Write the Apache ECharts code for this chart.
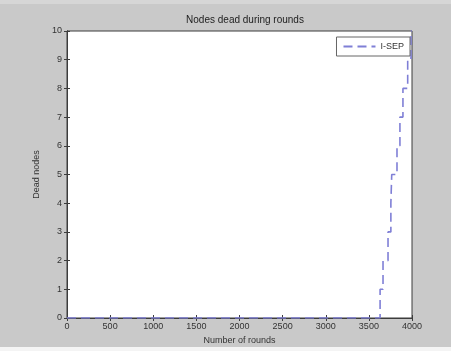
<!DOCTYPE html>
<html>
<head>
<meta charset="utf-8">
<script src="https://cdn.jsdelivr.net/npm/echarts@6/dist/echarts.min.js"></script>
<style>
  html, body { margin: 0; padding: 0; background: #c9c9c9; }
  #chart { width: 451px; height: 351px; }
</style>
</head>
<body>
<div id="chart"></div>
<script>
// Rounds at which the cumulative number of dead nodes changes
const rounds = [0, 3630, 3664, 3722, 3755, 3765, 3826, 3860, 3895, 3950, 3988, 4000];
const deadNodes = [0, 1, 2, 3, 4, 5, 6, 7, 8, 9, 10, 10];
const xTicks = [0, 500, 1000, 1500, 2000, 2500, 3000, 3500, 4000];
const yTicks = [0, 1, 2, 3, 4, 5, 6, 7, 8, 9, 10];
const seriesName = 'I-SEP';

const points = rounds.map((r, i) => [r, deadNodes[i]]);
const axisColor = '#3c3c3c';
const font = 'Liberation Sans, Arial, sans-serif';
const labelStyle = { color: '#333', fontSize: 9, fontFamily: font };
const plain = v => String(v);

const chart = echarts.init(document.getElementById('chart'), null, { renderer: 'canvas' });
chart.setOption({
  backgroundColor: '#c9c9c9',
  animation: false,
  graphic: [
    { type: 'rect', left: 0, top: 0, shape: { width: 451, height: 4 }, style: { fill: '#d6d6d6' }, z: -1 },
    { type: 'rect', left: 0, top: 347, shape: { width: 451, height: 4 }, style: { fill: '#f4f4f4' }, z: -1 }
  ],
  title: {
    text: 'Nodes dead during rounds',
    left: 240, top: 10, textAlign: 'center',
    textStyle: { fontSize: 10, fontWeight: 'normal', color: '#222', fontFamily: font }
  },
  legend: {
    data: [seriesName],
    right: 41, top: 37,
    itemWidth: 32, itemHeight: 10, itemGap: 4,
    padding: [5, 6, 5, 6],
    backgroundColor: '#fff',
    borderColor: '#666', borderWidth: 1,
    itemStyle: { opacity: 0 },
    textStyle: { fontSize: 9, color: '#333', fontFamily: font }
  },
  grid: { left: 67, right: 39, top: 31, bottom: 33, show: true, backgroundColor: '#fff', borderColor: axisColor, borderWidth: 1 },
  xAxis: [{
    type: 'value', min: 0, max: 4000, interval: 500,
    name: 'Number of rounds', nameLocation: 'middle', nameGap: 12,
    nameTextStyle: labelStyle,
    axisLine: { show: true, lineStyle: { color: axisColor } },
    axisTick: { inside: true, length: 3, lineStyle: { color: axisColor } },
    axisLabel: Object.assign({ margin: 4, formatter: plain }, labelStyle),
    splitLine: { show: false }
  }, {
    type: 'value', min: 0, max: 4000, interval: 500, position: 'top',
    axisLine: { show: true, lineStyle: { color: axisColor } },
    axisTick: { inside: true, length: 3, lineStyle: { color: axisColor } },
    axisLabel: { show: false }, splitLine: { show: false }
  }],
  yAxis: [{
    type: 'value', min: 0, max: 10, interval: 1,
    name: 'Dead nodes', nameLocation: 'middle', nameGap: 15,
    nameTextStyle: labelStyle,
    axisLine: { show: true, lineStyle: { color: axisColor } },
    axisTick: { inside: true, length: 3, lineStyle: { color: axisColor } },
    axisLabel: Object.assign({ margin: 5, formatter: plain }, labelStyle),
    splitLine: { show: false }
  }, {
    type: 'value', min: 0, max: 10, interval: 1, position: 'right',
    axisLine: { show: true, lineStyle: { color: axisColor } },
    axisTick: { inside: true, length: 3, lineStyle: { color: axisColor } },
    axisLabel: { show: false }, splitLine: { show: false }
  }],
  series: [{
    name: seriesName,
    type: 'line',
    data: points,
    step: 'end',
    showSymbol: false,
    symbol: 'none',
    color: '#7f7fd6',
    lineStyle: { color: '#7f7fd6', width: 1.6, type: [9, 5] }
  }]
});
</script>
</body>
</html>
